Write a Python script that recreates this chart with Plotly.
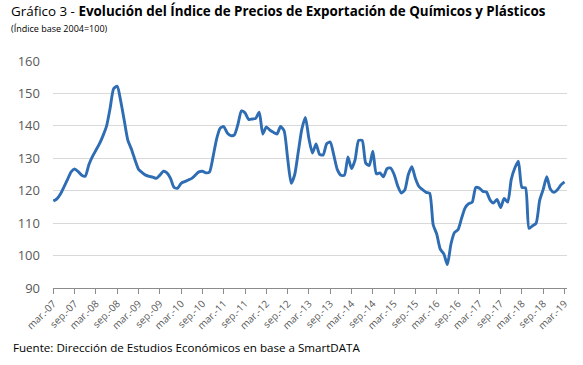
import plotly.graph_objects as go

# Monthly index, mar-07 .. mar-19 (145 months)
values = [
    116.8, 117.5, 119.0, 121.2, 123.5, 125.8, 126.7, 125.9, 124.8, 124.5,
    128.0, 130.5, 132.5, 134.5, 137.0, 140.0, 145.5, 151.5, 152.2, 147.5,
    141.5, 135.5, 132.8, 129.5, 126.6, 125.6, 124.8, 124.4, 124.2, 123.8,
    124.8, 126.0, 125.5, 123.8, 121.0, 120.8, 122.3, 122.8, 123.3, 123.8,
    124.8, 125.8, 126.0, 125.5, 125.8, 130.5, 136.0, 139.3, 139.8, 137.8,
    137.0, 137.2, 140.5, 144.6, 144.0, 142.0, 142.1, 142.3, 144.2, 137.5,
    139.7, 138.7, 138.0, 137.5, 139.8, 138.5, 130.0, 122.3, 125.0, 132.0,
    139.0, 142.6, 136.0, 131.6, 134.4, 131.2, 131.0, 134.5, 135.0, 131.0,
    126.5, 124.8, 124.8, 130.4, 126.8, 129.5, 135.5, 135.5, 128.5, 127.8,
    132.2, 125.2, 125.5, 124.3, 126.8, 127.0, 125.0, 121.5, 119.3, 120.2,
    125.0, 127.4, 123.8, 121.3, 120.3, 119.5, 119.2, 109.5, 106.6, 102.0,
    100.5, 97.2, 103.5, 107.1, 108.0, 111.5, 114.7, 116.0, 116.5, 121.0,
    120.8, 119.8, 119.6, 117.2, 116.2, 117.3, 114.8, 117.6, 116.5, 123.5,
    127.0, 129.1, 121.0, 120.9, 108.4, 109.2, 110.0, 117.0, 120.4, 124.3,
    120.5, 119.5, 120.3, 121.8, 122.7,
]
months = list(range(len(values)))

tick_positions = list(range(0, 145, 6))
tick_labels = []
for yr in range(7, 20):
    tick_labels.append(f"mar.-{yr:02d}")
    if yr < 19:
        tick_labels.append(f"sep.-{yr:02d}")

y_ticks = [90, 100, 110, 120, 130, 140, 150, 160]

title_plain = "Gráfico 3 - "
title_bold = "Evolución del Índice de Precios de Exportación de Químicos y Plásticos"
subtitle = "(Índice base 2004=100)"
source = "Fuente: Dirección de Estudios Económicos en base a SmartDATA"

FONT = "Open Sans"
W, H = 583, 365
ML, MR, MT, MB = 53, 16, 61, 77
plot_w = W - ML - MR
plot_h = H - MT - MB


def px_x(x):
    return (x - ML) / plot_w


def px_y(y_from_top):
    return (H - MB - y_from_top) / plot_h


fig = go.Figure()
fig.add_trace(go.Scatter(
    x=months, y=values, mode="lines",
    line=dict(color="#2e6db3", width=2.9, shape="spline", smoothing=0.6),
    hoverinfo="skip", showlegend=False,
))

fig.update_layout(
    width=W, height=H,
    margin=dict(l=ML, r=MR, t=MT, b=MB),
    paper_bgcolor="white", plot_bgcolor="white",
    font=dict(family=FONT, color="#595959"),
    xaxis=dict(
        range=[-0.1, 144.7],
        tickmode="array", tickvals=tick_positions, ticktext=tick_labels,
        tickangle=-45, tickfont=dict(size=10, color="#595959", family=FONT),
        showgrid=False, zeroline=False,
        showline=True, linecolor="#8c8c8c", linewidth=1,
        ticks="outside", ticklen=5, tickcolor="#8c8c8c", tickwidth=1,
        automargin=False,
    ),
    yaxis=dict(
        range=[90, 160], tickvals=y_ticks,
        tickfont=dict(size=13, color="#595959", family=FONT),
        showgrid=True, gridcolor="#d9d9d9", gridwidth=1,
        zeroline=False, showline=False, ticks="", ticklabelstandoff=12,
        automargin=False,
    ),
    annotations=[
        dict(text=f"{title_plain}<b>{title_bold}</b>", x=px_x(9), y=px_y(0),
             xref="paper", yref="paper", showarrow=False,
             xanchor="left", yanchor="top",
             font=dict(size=13.4, color="#000000", family=FONT)),
        dict(text=subtitle, x=px_x(9), y=px_y(20),
             xref="paper", yref="paper", showarrow=False,
             xanchor="left", yanchor="top",
             font=dict(size=9, color="#000000", family=FONT)),
        dict(text=source, x=px_x(11), y=px_y(338),
             xref="paper", yref="paper", showarrow=False,
             xanchor="left", yanchor="top",
             font=dict(size=11.6, color="#000000", family=FONT)),
    ],
)

fig.write_html(
    "out.html",
    config={"displayModeBar": False, "staticPlot": True},
    post_script="document.body.style.margin='0';document.body.style.overflow='hidden';",
)
